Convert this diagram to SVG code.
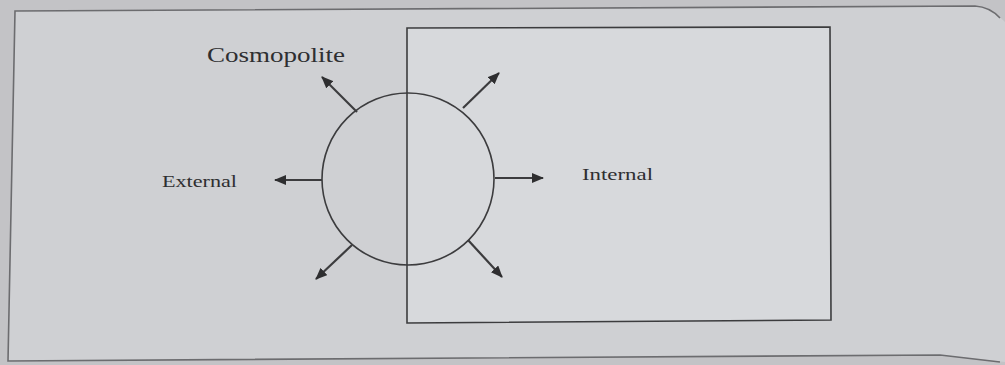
<svg xmlns="http://www.w3.org/2000/svg" width="1005" height="365" viewBox="0 0 1005 365">
<style>
.ln{stroke:#3c3c3e;stroke-width:1.6}
.ar{stroke:#3c3c3e;stroke-width:2.2;fill:none;marker-end:url(#ah)}
.tx{font-family:"Liberation Serif",serif;fill:#2e2e30}
</style>
<defs>
<marker id="ah" viewBox="0 0 12 10" refX="11" refY="5" markerWidth="12" markerHeight="10" markerUnits="userSpaceOnUse" orient="auto">
<path d="M0,0 L12,5 L0,10 Z" fill="#2e2e30"/>
</marker>
</defs>
<rect x="0" y="0" width="1005" height="365" fill="#c3c3c6"/>
<g id="frame">
<path d="M15,11 L975,6 Q992,8 1005,22 L1005,362 L940,355 L8,361 Z" fill="#cfd0d3" stroke="none"/>
<path d="M1000,18 Q990,7 975,6 L15,11 L8,361 L940,355 L1000,362" fill="none" stroke="#6c6c6f" stroke-width="1.6"/>
</g>
<g id="internal-box">
<path class="ln" d="M407,28 L830,27 L831,320 L407,323 Z" fill="#d7d9dc"/>
</g>
<g id="circle">
<circle class="ln" cx="408" cy="179" r="86" fill="none"/>
</g>
<g id="connectors">
<line class="ar" x1="322" y1="180" x2="275" y2="180"/>
<line class="ar" x1="495" y1="178" x2="543" y2="178"/>
<line class="ar" x1="357" y1="112" x2="322" y2="77"/>
<line class="ar" x1="463" y1="108" x2="499" y2="73"/>
<line class="ar" x1="352" y1="245" x2="316" y2="279"/>
<line class="ar" x1="468" y1="240" x2="502" y2="277"/>
</g>
<g id="label-cosmopolite">
<text class="tx" x="207" y="62" font-size="21" textLength="138" lengthAdjust="spacingAndGlyphs">Cosmopolite</text>
</g>
<g id="label-external">
<text class="tx" x="162" y="187" font-size="16" textLength="75" lengthAdjust="spacingAndGlyphs">External</text>
</g>
<g id="label-internal">
<text class="tx" x="582" y="180" font-size="16" textLength="71" lengthAdjust="spacingAndGlyphs">Internal</text>
</g>
</svg>
